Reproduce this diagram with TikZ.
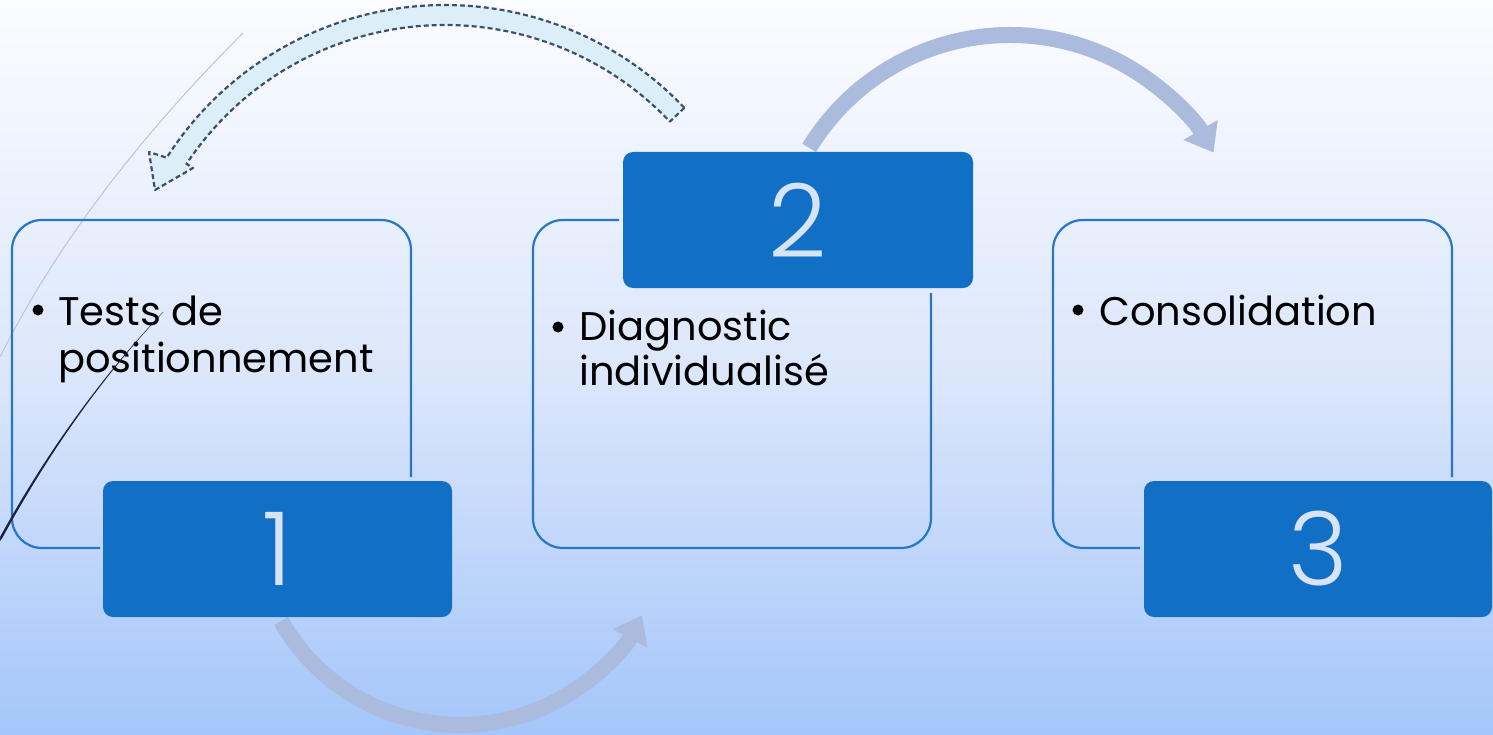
\documentclass[tikz,border=0pt]{standalone}
\usepackage{fontspec}
\setmainfont{Poppins}
\newfontfamily\numfont{Poppins Light}
\usetikzlibrary{arrows.meta}
\definecolor{bgtop}{RGB}{251,252,255}
\definecolor{bgmid}{RGB}{220,231,251}
\definecolor{bgbot}{RGB}{164,198,250}
\definecolor{boxblue}{RGB}{17,112,198}
\definecolor{outc}{RGB}{40,118,200}
\definecolor{arrowc}{RGB}{170,187,221}
\definecolor{dashfill}{RGB}{220,239,248}
\definecolor{dashline}{RGB}{60,80,110}
\definecolor{digitc}{RGB}{215,228,247}
\definecolor{thingray}{RGB}{190,196,210}
\definecolor{navy}{RGB}{30,32,70}
\begin{document}
\begin{tikzpicture}[x=1pt,y=-1pt,
  outline/.style={draw=outc, line width=2.2pt, rounded corners=30pt},
  numbox/.style={fill=boxblue, rounded corners=10pt, inner sep=0pt, text=digitc,
    font=\numfont\fontsize{102}{102}\selectfont},
  txt/.style={font=\fontsize{40}{46}\selectfont, anchor=base west, inner sep=0pt, text=black},
  flowarrow/.style={draw=arrowc, line width=16pt, -{Triangle[width=38pt,length=26pt]}},
  dasharrow/.style={fill=dashfill, draw=dashline, line width=2.2pt, dash pattern=on 5pt off 3pt, line join=round}
]
\useasboundingbox (0,0) rectangle (1493,735);
\shade[top color=bgtop, bottom color=bgbot, middle color=bgmid] (0,0) rectangle (1493,735);

% thin decorative curve
\draw[thingray, line width=1pt] (243,33) .. controls (135,141) and (54,249) .. (0,357);

% box outlines
\draw[outline] (100,548) -- (12,548) -- (12,220) -- (411,220) -- (411,477);
\draw[outline] (619,220) -- (533,220) -- (533,548) -- (931,548) -- (931,293);
\draw[outline] (1140,548) -- (1053,548) -- (1053,220) -- (1452,220) -- (1452,477);

% arrows
\draw[dasharrow] ([shift={(445,335)}]-43.5:330) arc[start angle=-43.5, end angle=-147.5, radius=330]
  -- (149,152) -- (155,190) -- (193,168)
  -- ([shift={(445,335)}]-146.5:310) arc[start angle=-146.5, end angle=-43.5, radius=310] -- cycle;
\draw[flowarrow] ([shift={(1010,270)}]-148.7:235) arc[start angle=-148.7, end angle=-30, radius=235];
\draw[flowarrow] ([shift={(460,519)}]150.3:206) arc[start angle=150.3, end angle=27.9, radius=206];

% number boxes
\node[numbox, minimum width=349pt, minimum height=136pt] (n1) at (277.5,549) {1};
\node[numbox, minimum width=350pt, minimum height=136pt] (n2) at (798,220) {2};
\node[numbox, minimum width=348pt, minimum height=136pt] (n3) at (1318,549) {3};

% texts
\fill (38,310) circle (5.5);
\node[txt] (t1a) at (58,325) {Tests de};
\node[txt] (t1b) at (58,372) {positionnement};
\fill (558,327) circle (5.5);
\node[txt] (t2a) at (579,340) {Diagnostic};
\node[txt] (t2b) at (579,385) {individualisé};
\fill (1078,310) circle (5.5);
\node[txt] (t3a) at (1099,325) {Consolidation};

% dark tapered curve over the first box
\fill[navy] (163,312) .. controls (101,377) and (46.7,452.3) .. (0,537)
  -- (0,541) -- (2.2,538.2) .. controls (48.3,453.5) and (101.6,377.6) .. (163.3,312.2) -- cycle;
\end{tikzpicture}
\end{document}
